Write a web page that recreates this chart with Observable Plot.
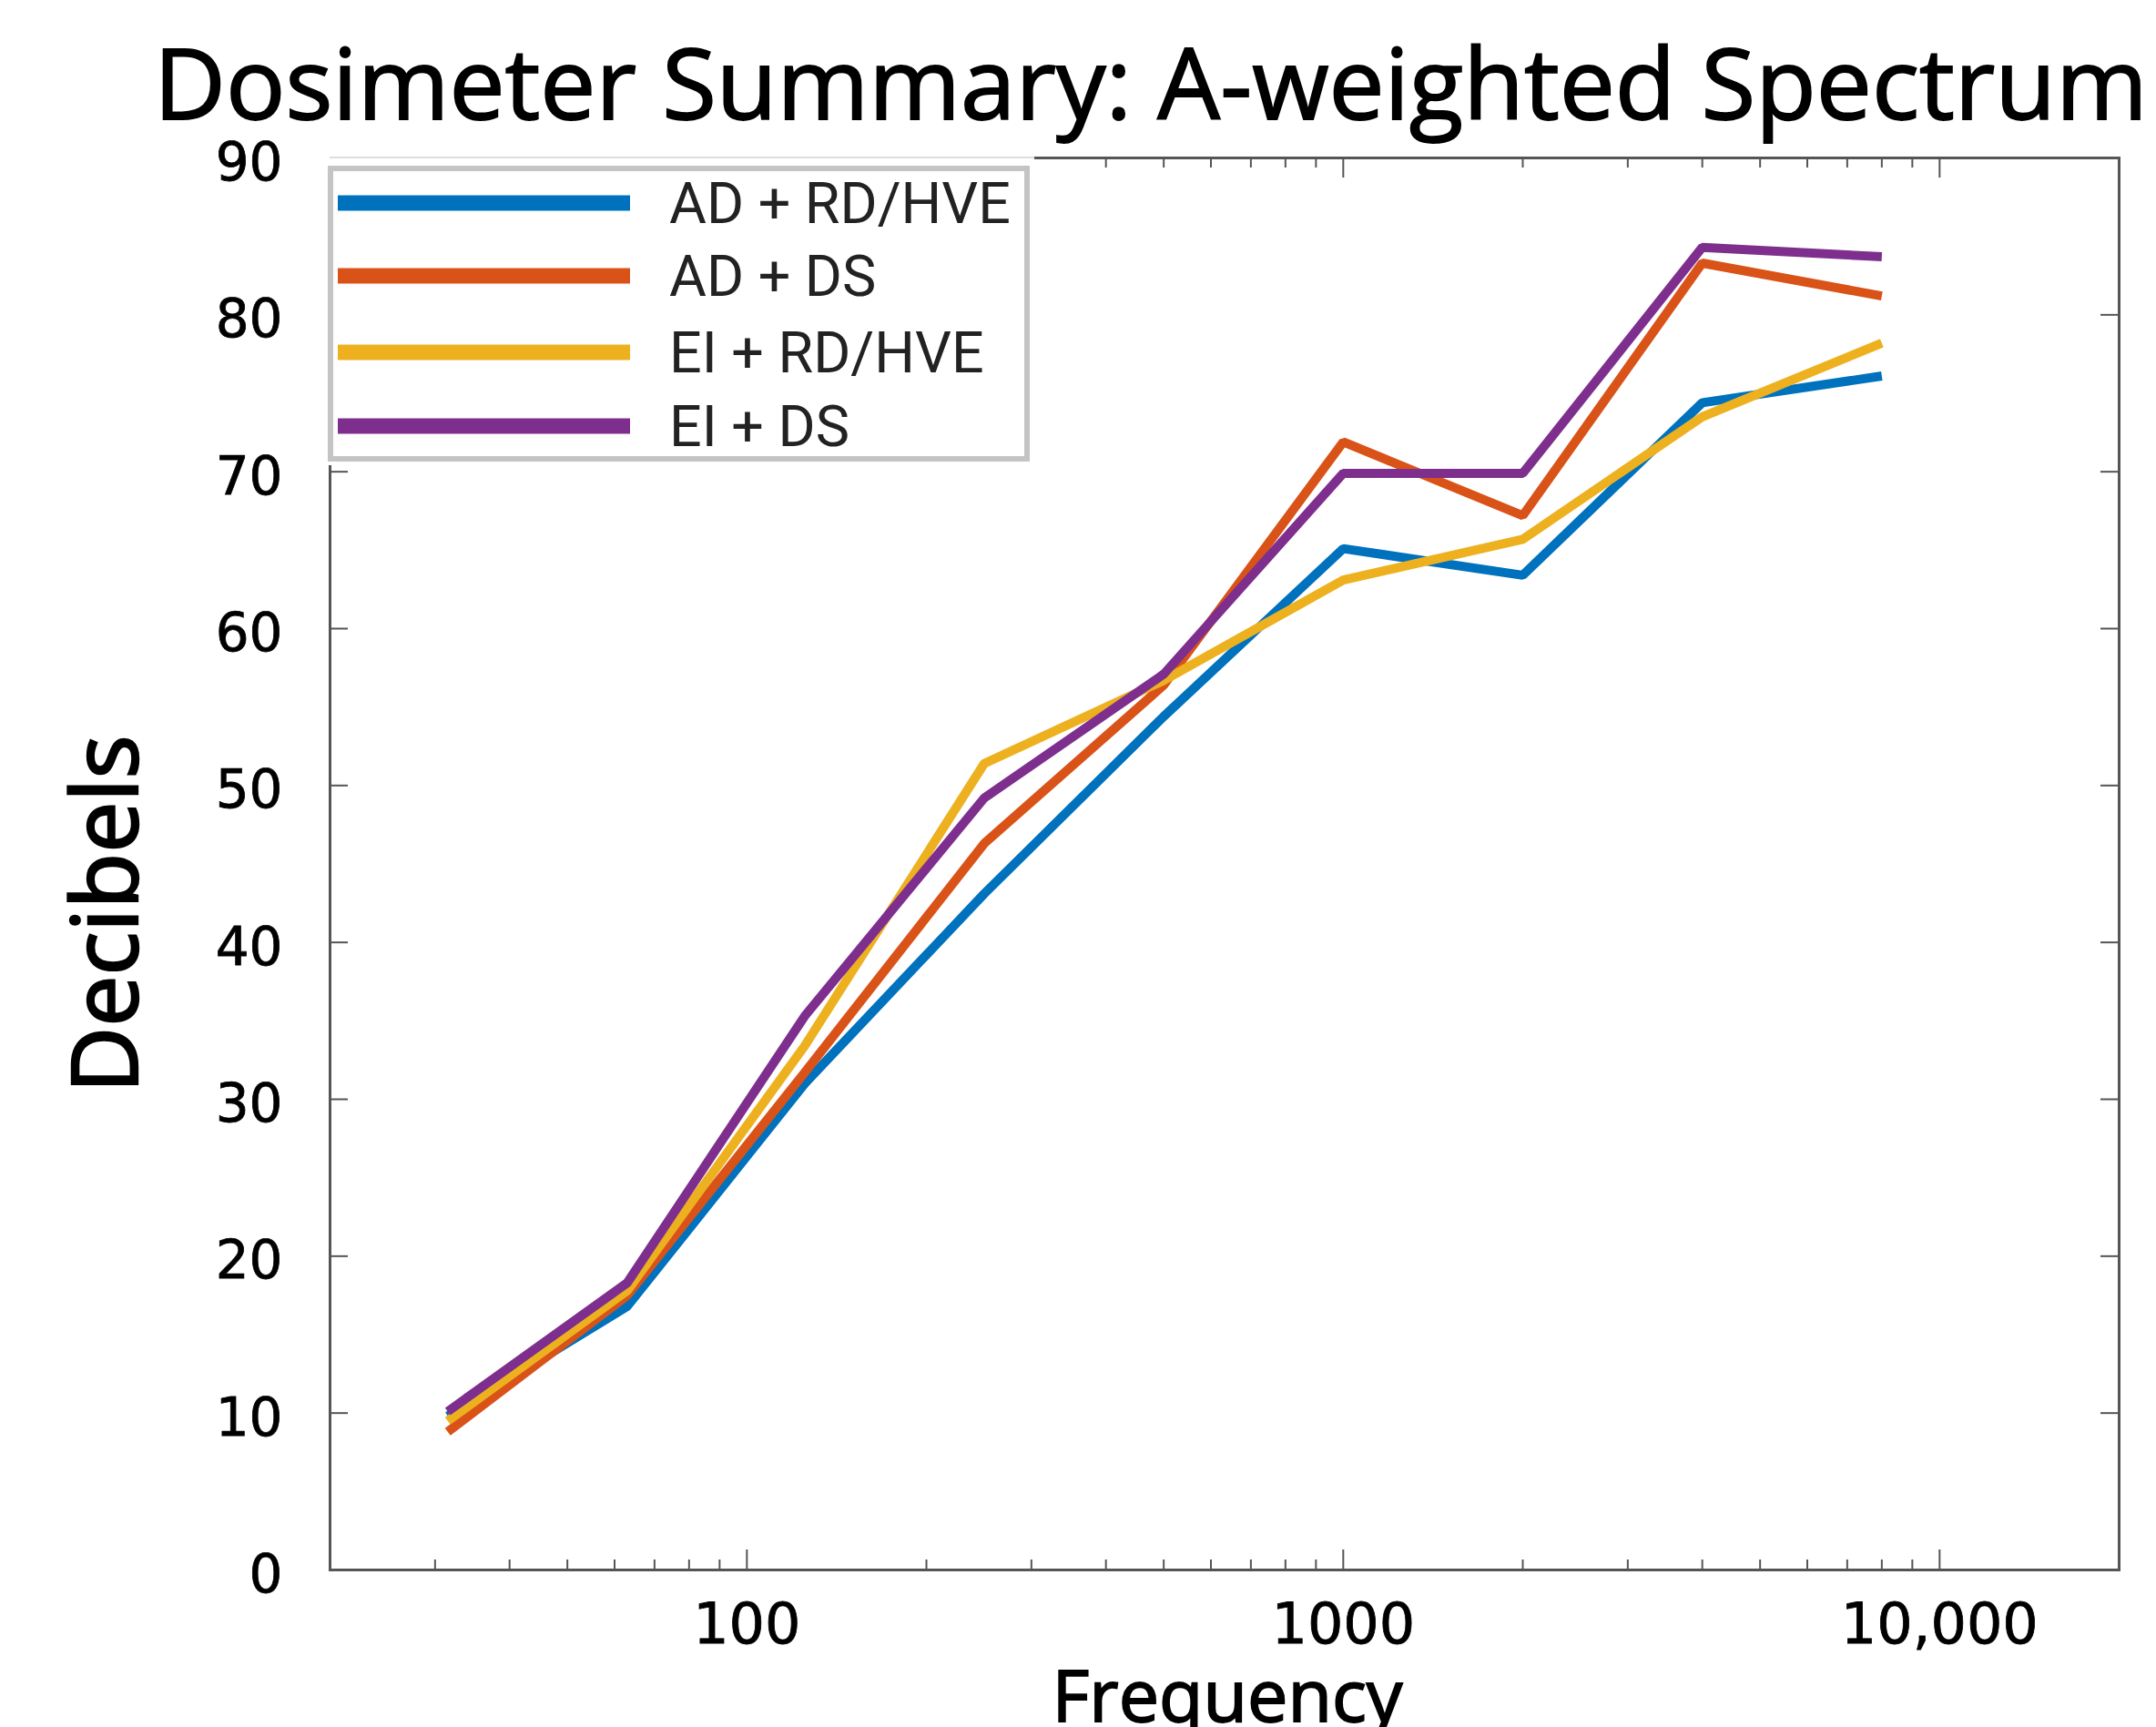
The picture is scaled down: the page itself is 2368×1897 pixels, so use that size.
<!DOCTYPE html>
<html><head><meta charset="utf-8">
<script src="https://cdn.jsdelivr.net/npm/d3@7"></script>
<script src="https://cdn.jsdelivr.net/npm/@observablehq/plot@0.6"></script>
<style>body{margin:0;background:#fff}</style>
</head><body><div id="chart"></div>
<script>
// ---- data ----
const frequencies = [31.5, 63, 125, 250, 500, 1000, 2000, 4000, 8000];
const seriesNames = ["AD + RD/HVE", "AD + DS", "EI + RD/HVE", "EI + DS"];
const adRdHve = [9.8, 16.8, 31.0, 43.1, 54.4, 65.1, 63.4, 74.4, 76.1];
const adDs    = [8.8, 17.5, 31.7, 46.3, 56.4, 71.9, 67.2, 83.3, 81.2];
const eiRdHve = [9.5, 17.8, 33.4, 51.4, 56.7, 63.1, 65.7, 73.5, 78.2];
const eiDs    = [10.1, 18.3, 35.3, 49.2, 57.1, 69.9, 69.9, 84.3, 83.7];
const seriesValues = [adRdHve, adDs, eiRdHve, eiDs];
const seriesColors = ["#0072BD", "#D95319", "#EDB120", "#7E2F8E"];
const yTicks = [0, 10, 20, 30, 40, 50, 60, 70, 80, 90];
const xMajorTicks = [100, 1000, 10000];
const xMajorLabels = ["100", "1000", "10,000"];
const xMinorTicks = [30, 40, 50, 60, 70, 80, 90, 200, 300, 400, 500, 600, 700, 800, 900,
                     2000, 3000, 4000, 5000, 6000, 7000, 8000, 9000];
const titleText = "Dosimeter Summary: A-weighted Spectrum";
const xLabel = "Frequency";
const yLabel = "Decibels";

// ---- layout ----
const W = 2368, H = 1897;
const mL = 362, mR = 41, mT = 173, mB = 173;
const xDomain = [20, 20000], yDomain = [0, 90];
const plotW = W - mL - mR, plotH = H - mT - mB;
const dbPerPx = (yDomain[1] - yDomain[0]) / plotH;
const decadePx = plotW / Math.log10(xDomain[1] / xDomain[0]);
const xShift = (v, px) => v * Math.pow(10, px / decadePx);
const frameColor = "#555";

const rows = [];
seriesValues.forEach((vals, i) => vals.forEach((v, j) =>
  rows.push({series: seriesNames[i], freq: frequencies[j], db: v})));

const minorLen = 11, majorLen = 22, yTickLen = 20;

const plot = Plot.plot({
  width: W, height: H,
  marginLeft: mL, marginRight: mR, marginTop: mT, marginBottom: mB,
  style: {fontFamily: "DejaVu Sans", color: "#000", background: "#fff"},
  x: {type: "log", domain: xDomain},
  y: {domain: yDomain},
  color: {domain: seriesNames, range: seriesColors},
  marks: [
    Plot.axisY(yTicks, {anchor: "left", tickSize: 0, tickPadding: 52, fontSize: 58, label: null, fill: "#000", dy: 6}),
    Plot.axisX(xMajorTicks, {anchor: "bottom", tickSize: 0, tickPadding: 36, fontSize: 62, label: null, fill: "#000",
      tickFormat: d => xMajorLabels[xMajorTicks.indexOf(d)]}),
    // inward ticks
    Plot.ruleX(xMinorTicks, {x: d => d, y1: 0, y2: minorLen * dbPerPx, stroke: frameColor, strokeWidth: 2}),
    Plot.ruleX(xMajorTicks, {x: d => d, y1: 0, y2: majorLen * dbPerPx, stroke: frameColor, strokeWidth: 2}),
    Plot.ruleX(xMinorTicks, {x: d => d, y1: 90, y2: 90 - minorLen * dbPerPx, stroke: frameColor, strokeWidth: 2}),
    Plot.ruleX(xMajorTicks, {x: d => d, y1: 90, y2: 90 - majorLen * dbPerPx, stroke: frameColor, strokeWidth: 2}),
    Plot.ruleY(yTicks.slice(1, -1), {y: d => d, x1: xDomain[0], x2: xShift(xDomain[0], yTickLen), stroke: frameColor, strokeWidth: 2}),
    Plot.ruleY(yTicks.slice(1, -1), {y: d => d, x1: xDomain[1], x2: xShift(xDomain[1], -yTickLen), stroke: frameColor, strokeWidth: 2}),
    Plot.line(rows, {x: "freq", y: "db", stroke: "series", z: "series", strokeWidth: 10,
      strokeLinejoin: "miter", strokeLinecap: "butt"}),
    Plot.frame({stroke: frameColor, strokeWidth: 3})
  ]
});
document.getElementById("chart").appendChild(plot);

const svg = d3.select(plot);
// slightly heavier tick labels
svg.selectAll('g[aria-label="y-axis tick label"] text, g[aria-label="x-axis tick label"] text')
  .attr("stroke", "#000").attr("stroke-width", 0.8);

function fitText(sel, target) {
  const n = sel.node();
  const fs = parseFloat(sel.attr("font-size"));
  const len = n.getComputedTextLength();
  if (len > 0) sel.attr("font-size", fs * target / len);
}

// title
const t = svg.append("text").attr("x", 169).attr("y", 131).attr("text-anchor", "start")
  .attr("font-family", "Open Sans").attr("font-size", 109).attr("fill", "#000")
  .attr("stroke", "#000").attr("stroke-width", 1.8).text(titleText);
fitText(t, 2190);

// y label
const yl = svg.append("text").attr("transform", "translate(151,1004) rotate(-90)")
  .attr("text-anchor", "middle").attr("font-family", "Open Sans").attr("font-size", 105)
  .attr("fill", "#000").attr("stroke", "#000").attr("stroke-width", 2.4).text(yLabel);
fitText(yl, 393);

// x label
const xl = svg.append("text").attr("x", 1348).attr("y", 1891).attr("text-anchor", "middle")
  .attr("font-family", "Open Sans").attr("font-size", 80).attr("fill", "#000")
  .attr("stroke", "#000").attr("stroke-width", 1.8).text(xLabel);
fitText(xl, 385);

// legend
const lg = svg.append("g");
lg.append("rect").attr("x", 356).attr("y", 166).attr("width", 780).attr("height", 345).attr("fill", "#fff");
lg.append("line").attr("x1", 362).attr("x2", 1136).attr("y1", 173).attr("y2", 173)
  .attr("stroke", "#ddd").attr("stroke-width", 2);
lg.append("rect").attr("x", 363).attr("y", 185).attr("width", 765).attr("height", 319)
  .attr("fill", "#fff").attr("stroke", "#c4c4c4").attr("stroke-width", 6);
const rowsY = [223, 303, 387, 468];
seriesNames.forEach((name, i) => {
  lg.append("line").attr("x1", 371).attr("x2", 692).attr("y1", rowsY[i]).attr("y2", rowsY[i])
    .attr("stroke", seriesColors[i]).attr("stroke-width", 17);
  const tx = lg.append("text").attr("x", 735).attr("y", rowsY[i] + 22).attr("text-anchor", "start")
    .attr("font-family", "Roboto").attr("font-size", 60).attr("fill", "#222").text(name);
  if (i === 0) fitText(tx, 375);
  else tx.attr("font-size", lg.select("text").attr("font-size"));
});
</script>
</body></html>
